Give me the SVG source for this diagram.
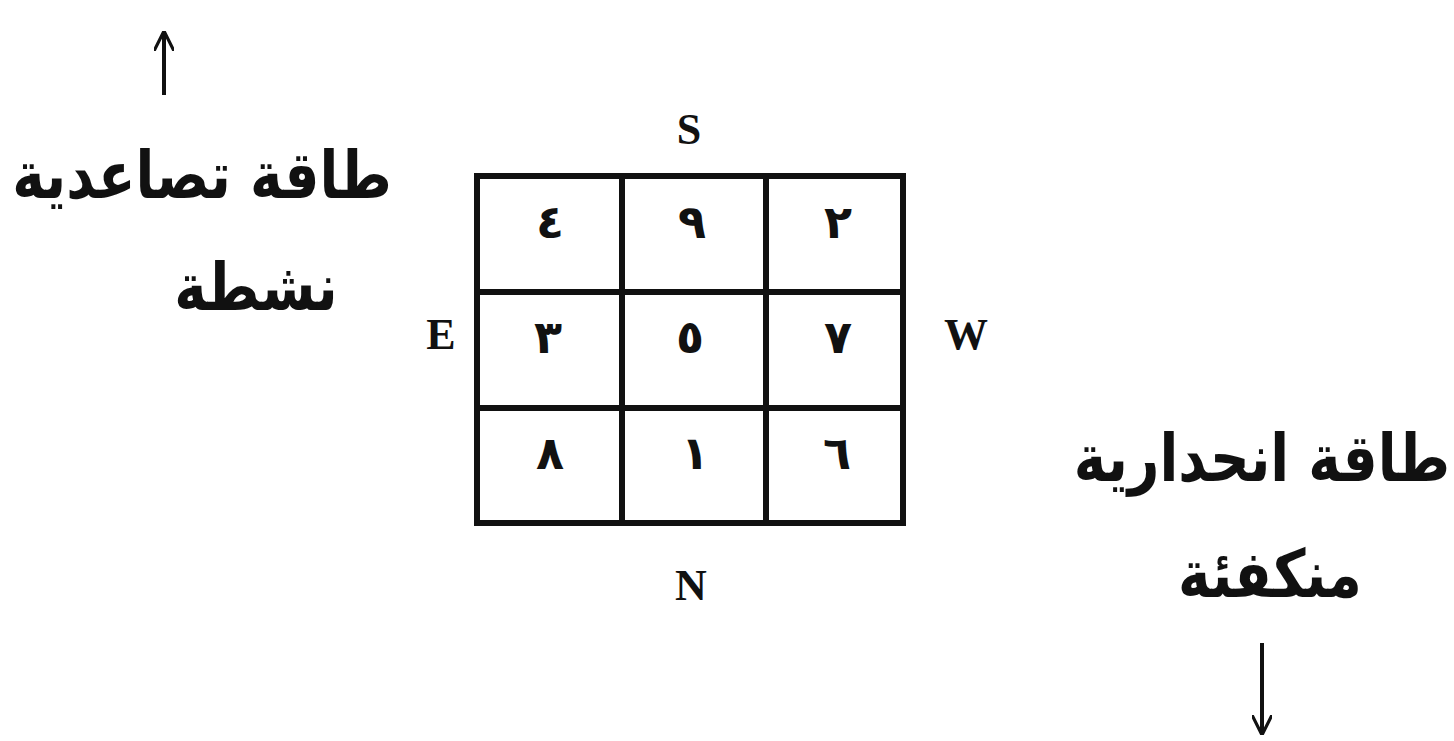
<svg xmlns="http://www.w3.org/2000/svg" width="1454" height="741" viewBox="0 0 1454 741">
<style>
.ar{font-family:"DejaVu Sans","Noto Sans",sans-serif;font-weight:bold;font-size:55px;fill:#111;text-anchor:middle}
.lbl{font-family:"Liberation Serif",serif;font-weight:bold;font-size:44px;fill:#111;text-anchor:middle}
.num{font-family:"DejaVu Sans",sans-serif;font-weight:bold;font-size:46px;fill:#111;text-anchor:middle}
.ln{stroke:#111;stroke-width:6;fill:none}
.arr{stroke:#111;stroke-width:4;fill:none}
</style>
<defs>
<marker id="ah" viewBox="0 0 10 10" refX="9" refY="5" markerWidth="5" markerHeight="5" orient="auto" markerUnits="strokeWidth">
<path d="M0,0 L10,5 L0,10" fill="none" stroke="#111" stroke-width="1.6"/>
</marker>
</defs>
<rect width="1454" height="741" fill="#fff"/>
<g id="connectors">
<line class="arr" x1="164" y1="95" x2="164" y2="33" marker-end="url(#ah)"/>
<line class="arr" x1="1262" y1="643" x2="1262" y2="733" marker-end="url(#ah)"/>
</g>
<g id="grid">
<rect class="ln" x="477" y="176" width="426" height="347"/>
<line class="ln" x1="622" y1="176" x2="622" y2="523"/>
<line class="ln" x1="766" y1="176" x2="766" y2="523"/>
<line class="ln" x1="477" y1="292" x2="903" y2="292"/>
<line class="ln" x1="477" y1="408" x2="903" y2="408"/>
</g>
<g id="cells">
<text class="num" x="550" y="238">٤</text>
<text class="num" x="692" y="238">٩</text>
<text class="num" x="838" y="238">٢</text>
<text class="num" x="548" y="353">٣</text>
<text class="num" x="690" y="353">٥</text>
<text class="num" x="838" y="353">٧</text>
<text class="num" x="550" y="469">٨</text>
<text class="num" x="695" y="469">١</text>
<text class="num" x="837" y="469">٦</text>
</g>
<g id="directions">
<text class="lbl" x="689" y="144">S</text>
<text class="lbl" x="441" y="349">E</text>
<text class="lbl" x="966" y="349">W</text>
<text class="lbl" x="691" y="600">N</text>
</g>
<g id="left-label">
<text class="ar" transform="translate(202,198) scale(1,1.2)">طاقة تصاعدية</text>
<text class="ar" transform="translate(256,310) scale(1,1.2)">نشطة</text>
</g>
<g id="right-label">
<text class="ar" transform="translate(1262,481) scale(1,1.2)">طاقة انحدارية</text>
<text class="ar" transform="translate(1270,597) scale(1,1.2)">منكفئة</text>
</g>
</svg>
